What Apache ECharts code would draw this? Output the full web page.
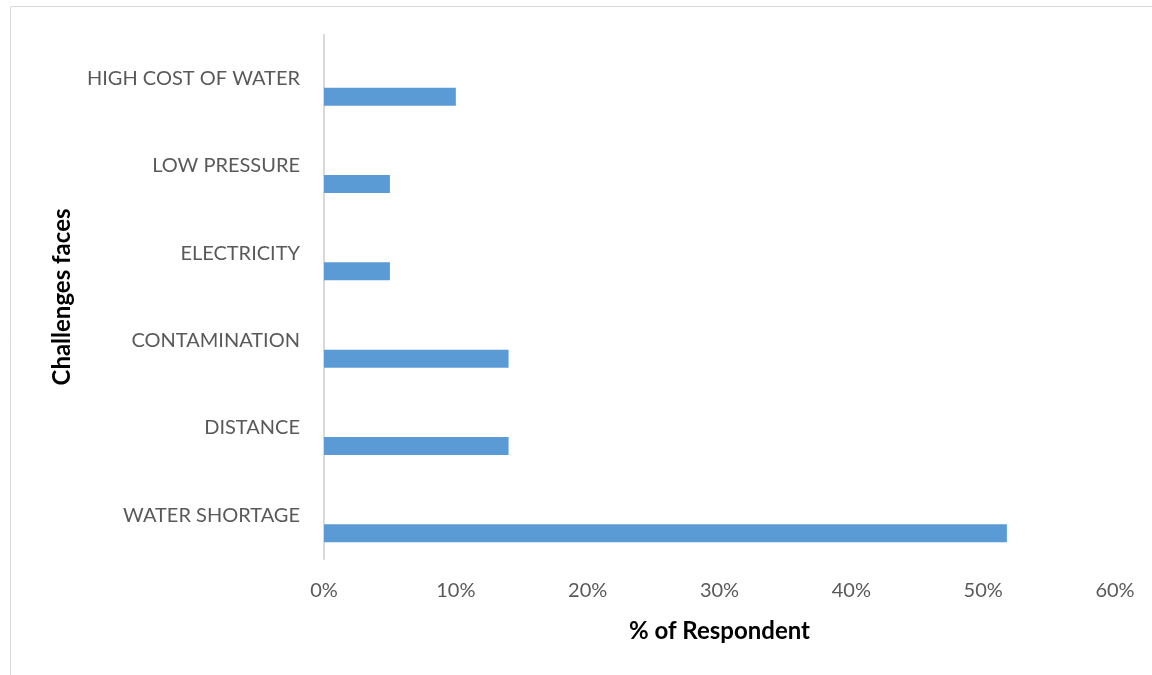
<!DOCTYPE html>
<html>
<head>
<meta charset="utf-8">
<script src="https://cdn.jsdelivr.net/npm/echarts@6/dist/echarts.min.js"></script>
<style>
  html, body { margin: 0; padding: 0; background: #fff; }
  #chart { width: 1152px; height: 675px; }
</style>
</head>
<body>
<div id="chart"></div>
<script>
// Challenges listed top to bottom
const categories = ['HIGH COST OF WATER', 'LOW PRESSURE', 'ELECTRICITY', 'CONTAMINATION', 'DISTANCE', 'WATER SHORTAGE'];
// Share of respondents (%)
const respondentShare = [10, 5, 5, 14, 14, 51.8];
// Empty companion series (keeps the clustered-bar slot layout)
const emptySlot = [null, null, null, null, null, null];
const xTicks = [0, 10, 20, 30, 40, 50, 60];

const font = 'Lato, "Open Sans", sans-serif';
const chart = echarts.init(document.getElementById('chart'));

chart.setOption({
  animation: false,
  backgroundColor: '#fff',
  graphic: [{
    type: 'rect',
    shape: { x: 10.5, y: 6.5, width: 1200, height: 700 },
    style: { fill: 'none', stroke: '#d9d9d9', lineWidth: 1 },
    silent: true
  }],
  grid: { left: 324, right: 37, top: 35, bottom: 116, containLabel: false },
  xAxis: {
    type: 'value',
    min: xTicks[0],
    max: xTicks[xTicks.length - 1],
    interval: 10,
    splitLine: { show: false },
    axisLine: { show: false },
    axisTick: { show: false },
    axisLabel: {
      formatter: v => v + '%',
      color: '#595959',
      fontFamily: font,
      fontSize: 20,
      margin: 22
    },
    name: '% of Respondent',
    nameLocation: 'middle',
    nameGap: 60,
    nameTextStyle: { color: '#000', fontFamily: font, fontSize: 24, fontWeight: 'bold' }
  },
  yAxis: {
    type: 'category',
    data: categories,
    inverse: true,
    axisLine: { show: true, lineStyle: { color: '#d9d9d9', width: 2 } },
    axisTick: { show: false },
    axisLabel: {
      color: '#595959',
      fontFamily: font,
      fontSize: 20,
      margin: 24
    },
    name: 'Challenges faces',
    nameLocation: 'middle',
    nameGap: 250,
    nameRotate: 90,
    nameTextStyle: { color: '#000', fontFamily: font, fontSize: 24, fontWeight: 'bold' }
  },
  series: [
    {
      type: 'bar',
      data: emptySlot,
      barWidth: 18,
      barGap: '100%'
    },
    {
      type: 'bar',
      data: respondentShare,
      barWidth: 18,
      barGap: '100%',
      itemStyle: { color: '#5b9bd5' }
    }
  ]
});
</script>
</body>
</html>
